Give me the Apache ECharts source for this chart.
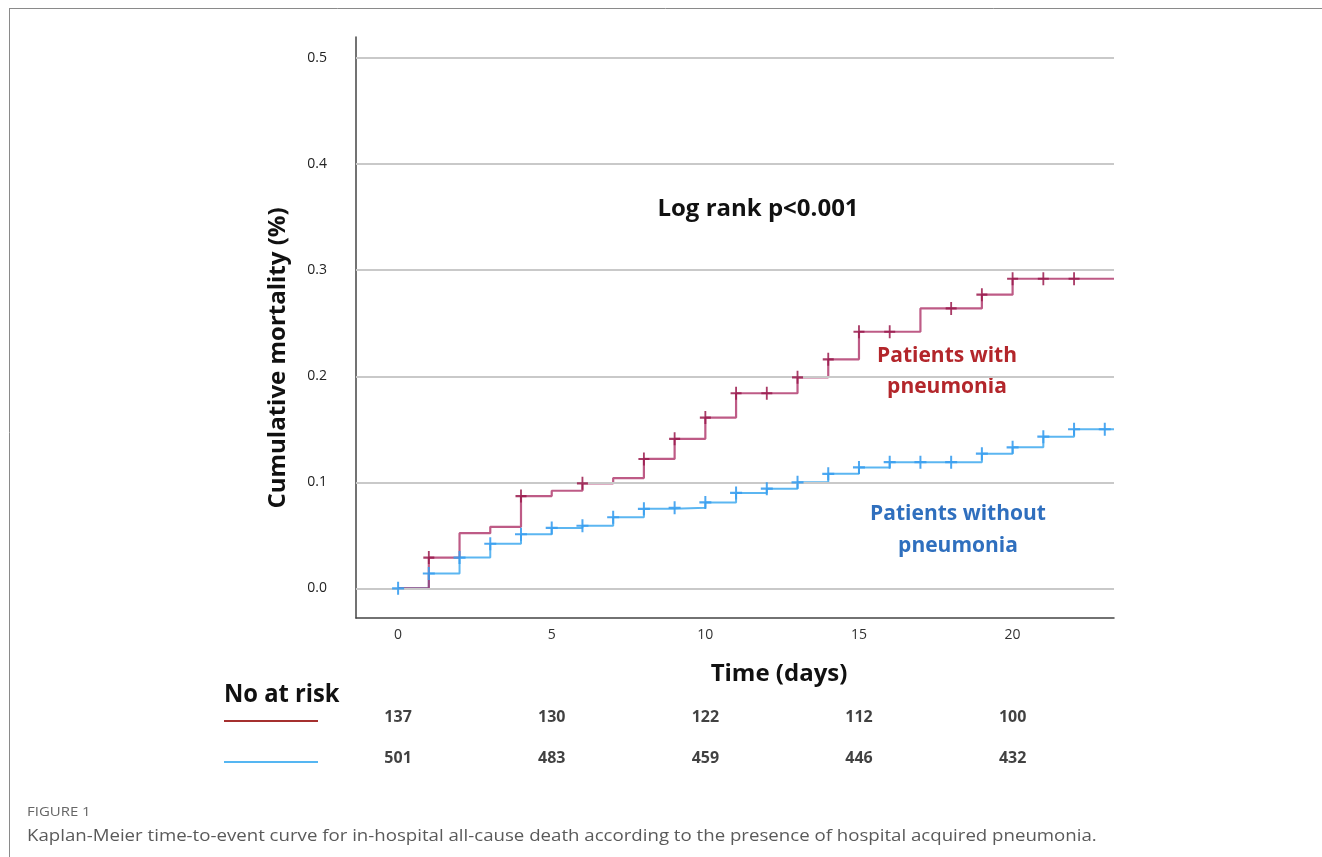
<!DOCTYPE html>
<html>
<head>
<meta charset="utf-8">
<script src="https://cdn.jsdelivr.net/npm/echarts@6/dist/echarts.min.js"></script>
<style>
html,body{margin:0;padding:0;background:#fff;}
#chart{width:1322px;height:857px;}
</style>
</head>
<body>
<div id="chart"></div>
<script>
// ---- data ----
const xTicks = [0, 5, 10, 15, 20];
const yTicks = [0, 0.1, 0.2, 0.3, 0.4, 0.5];
// Patients with pneumonia: step times and cumulative mortality after each step
const pnTimes  = [0, 1, 2, 3, 4, 5, 6, 7, 8, 9, 10, 11, 13, 14, 15, 17, 19, 20, 23.3];
const pnValues = [0, 0.029, 0.052, 0.058, 0.087, 0.092, 0.099, 0.104, 0.122, 0.141, 0.161, 0.184, 0.199, 0.216, 0.242, 0.264, 0.277, 0.292, 0.292];
const pnCensor = [1, 4, 6, 8, 9, 10, 11, 12, 13, 14, 15, 16, 18, 19, 20, 21, 22];
// Patients without pneumonia
const npTimes  = [0, 1, 2, 3, 4, 5, 6, 7, 8, 9, 10, 11, 12, 13, 14, 15, 16, 19, 20, 21, 22, 23.3];
const npValues = [0, 0.014, 0.029, 0.042, 0.051, 0.057, 0.059, 0.067, 0.075, 0.076, 0.081, 0.090, 0.094, 0.100, 0.108, 0.114, 0.119, 0.127, 0.133, 0.143, 0.150, 0.150];
const npCensor = [0, 1, 2, 3, 4, 5, 6, 7, 8, 9, 10, 11, 12, 13, 14, 15, 16, 17, 18, 19, 20, 21, 22, 23];
// Number at risk
const riskTimes = [0, 5, 10, 15, 20];
const riskWith    = [137, 130, 122, 112, 100];
const riskWithout = [501, 483, 459, 446, 432];

// ---- helpers ----
function stepValue(times, values, t) {
  let v = values[0];
  for (let i = 0; i < times.length; i++) { if (times[i] <= t) v = values[i]; }
  return v;
}
const zip = (a, b) => a.map((x, i) => [x, b[i]]);
const plusPath = 'path://M0,5H12V7H0ZM5,0H7V12H5Z';
const FONT = '"Open Sans", "DejaVu Sans", sans-serif';

const X_MIN = -1.37, X_MAX = 23.3;

const chart = echarts.init(document.getElementById('chart'), null, {renderer: 'canvas'});
const option = {
  animation: false,
  backgroundColor: '#ffffff',
  grid: [
    {left: 356, top: 37, width: 758, height: 581},
    {left: 356, top: 697, width: 758, height: 82}
  ],
  xAxis: [
    {
      type: 'value', gridIndex: 0, min: X_MIN, max: X_MAX,
      axisLine: {show: true, onZero: false, lineStyle: {color: '#444', width: 1.5}},
      axisTick: {show: false},
      splitLine: {show: false},
      axisLabel: {customValues: xTicks, margin: 10, fontSize: 14, color: '#333', fontFamily: FONT}
    },
    {
      type: 'value', gridIndex: 1, min: X_MIN, max: X_MAX, show: false
    }
  ],
  yAxis: [
    {
      type: 'value', gridIndex: 0, min: -0.028, max: 0.52,
      axisLine: {show: true, onZero: false, lineStyle: {color: '#444', width: 1.5}},
      axisTick: {show: false},
      splitLine: {show: false},
      axisLabel: {customValues: yTicks, margin: 29, fontSize: 14, color: '#222', fontFamily: FONT,
                  formatter: v => v.toFixed(1)}
    },
    {
      type: 'category', gridIndex: 1, data: ['with', 'without'], inverse: true, show: false
    }
  ],
  series: [
    {
      name: 'grid', type: 'line', data: [], xAxisIndex: 0, yAxisIndex: 0, silent: true,
      markLine: {
        silent: true, symbol: 'none', label: {show: false},
        lineStyle: {color: '#c9c9c9', width: 2, type: 'solid'},
        data: yTicks.map(v => ({yAxis: v}))
      }
    },
    {
      name: 'Patients without pneumonia', type: 'line', step: 'end',
      data: zip(npTimes, npValues), showSymbol: false, z: 3,
      lineStyle: {color: '#4aaef0', width: 2, opacity: 0.9}
    },
    {
      name: 'Patients with pneumonia', type: 'line', step: 'end',
      data: zip(pnTimes, pnValues), showSymbol: false, z: 4,
      lineStyle: {color: '#a8245e', width: 2.2, opacity: 0.75}
    },
    {
      name: 'censor without', type: 'scatter', z: 5,
      data: npCensor.map(t => [t, stepValue(npTimes, npValues, t)]),
      symbol: plusPath, symbolSize: [12, 13],
      itemStyle: {color: '#3a9ff0', opacity: 0.9}
    },
    {
      name: 'censor with', type: 'scatter', z: 6,
      data: pnCensor.map(t => [t, stepValue(pnTimes, pnValues, t)]),
      symbol: plusPath, symbolSize: [11, 13],
      itemStyle: {color: '#9a1a4c', opacity: 0.85}
    },
    {
      name: 'risk with', type: 'scatter', xAxisIndex: 1, yAxisIndex: 1,
      data: riskTimes.map((t, i) => [t, 'with', riskWith[i]]),
      symbolSize: 0,
      label: {show: true, position: 'inside', formatter: p => String(p.value[2]),
              fontSize: 16, fontWeight: 'bold', color: '#111', fontFamily: FONT}
    },
    {
      name: 'risk without', type: 'scatter', xAxisIndex: 1, yAxisIndex: 1,
      data: riskTimes.map((t, i) => [t, 'without', riskWithout[i]]),
      symbolSize: 0,
      label: {show: true, position: 'inside', formatter: p => String(p.value[2]),
              fontSize: 16, fontWeight: 'bold', color: '#111', fontFamily: FONT}
    }
  ],
  graphic: [
    {type: 'line', shape: {x1: 9, y1: 8.5, x2: 1322, y2: 8.5}, style: {stroke: '#8a8a8a', lineWidth: 1}},
    {type: 'line', shape: {x1: 9.5, y1: 8, x2: 9.5, y2: 857}, style: {stroke: '#8a8a8a', lineWidth: 1}},
    {type: 'text', x: 758, y: 209, style: {text: 'Log rank p<0.001', font: 'bold 24px ' + FONT, fill: '#111', align: 'center', verticalAlign: 'middle'}},
    {type: 'text', x: 947, y: 372, style: {text: 'Patients with\npneumonia', font: 'bold 21px ' + FONT, lineHeight: 31, fill: '#b3262b', align: 'center', verticalAlign: 'middle'}},
    {type: 'text', x: 958, y: 530, style: {text: 'Patients without\npneumonia', font: 'bold 21px ' + FONT, lineHeight: 32, fill: '#2f6fbe', align: 'center', verticalAlign: 'middle'}},
    {type: 'text', x: 278, y: 358, rotation: Math.PI / 2, style: {text: 'Cumulative mortality (%)', font: 'bold 24px ' + FONT, fill: '#111', align: 'center', verticalAlign: 'middle'}},
    {type: 'text', x: 779, y: 674, style: {text: 'Time (days)', font: 'bold 24px ' + FONT, fill: '#111', align: 'center', verticalAlign: 'middle'}},
    {type: 'text', x: 224, y: 695, scaleX: 0.95, style: {text: 'No at risk', font: 'bold 25px ' + FONT, fill: '#111', align: 'left', verticalAlign: 'middle'}},
    {type: 'line', shape: {x1: 224, y1: 721, x2: 318, y2: 721}, style: {stroke: '#a5302f', lineWidth: 2}},
    {type: 'line', shape: {x1: 224, y1: 762, x2: 318, y2: 762}, style: {stroke: '#55b6f2', lineWidth: 2}},
    {type: 'text', x: 27, y: 812, scaleX: 1.15, style: {text: 'FIGURE 1', font: '13px ' + FONT, fill: '#666', align: 'left', verticalAlign: 'middle'}},
    {type: 'text', x: 27, y: 836, scaleX: 1.165, style: {text: 'Kaplan-Meier time-to-event curve for in-hospital all-cause death according to the presence of hospital acquired pneumonia.', font: '16px ' + FONT, fill: '#5a5a5a', align: 'left', verticalAlign: 'middle'}}
  ]
};
chart.setOption(option);
</script>
</body>
</html>
